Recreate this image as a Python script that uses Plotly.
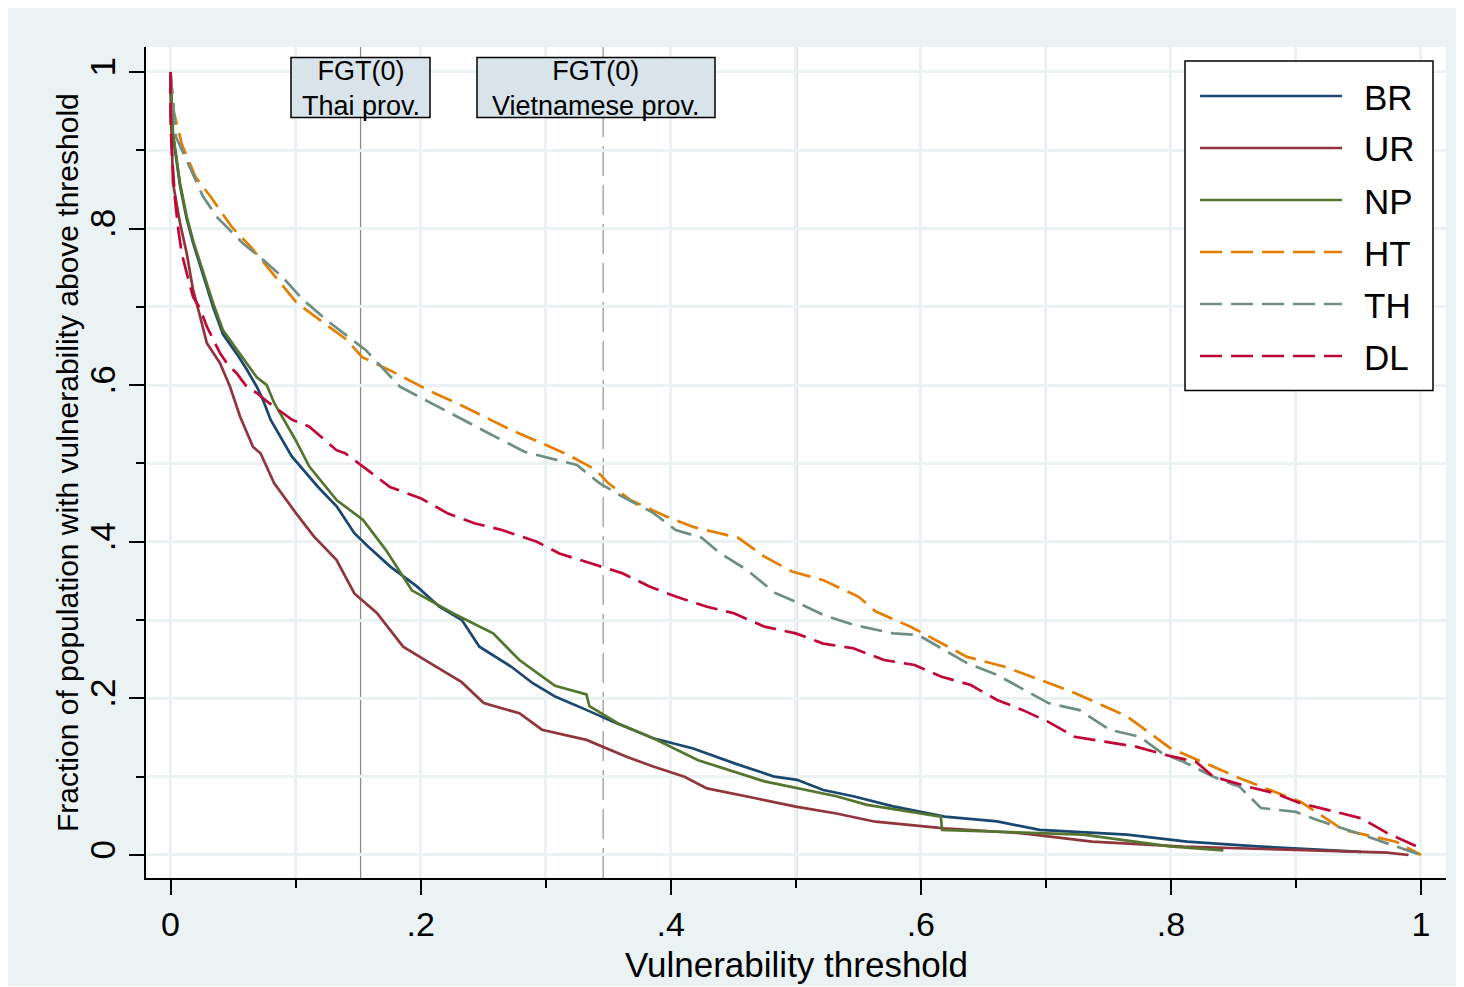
import plotly.graph_objects as go

# ---------------- data ----------------
series_names = ["BR", "UR", "NP", "HT", "TH", "DL"]

x_br = [0, 0.001, 0.0076, 0.013, 0.018, 0.0236, 0.029, 0.034, 0.042, 0.053, 0.061, 0.069, 0.074, 0.080,
        0.097, 0.118, 0.133, 0.147, 0.158, 0.176, 0.197, 0.215, 0.233, 0.247, 0.272, 0.290, 0.308, 0.333,
        0.354, 0.386, 0.418, 0.451, 0.483, 0.501, 0.522, 0.546, 0.578, 0.619, 0.661, 0.695, 0.765, 0.813,
        0.869, 0.952]
y_br = [1.0, 0.93, 0.855, 0.812, 0.782, 0.752, 0.726, 0.700, 0.665, 0.640, 0.620, 0.598, 0.581, 0.556,
        0.509, 0.470, 0.445, 0.411, 0.394, 0.368, 0.343, 0.317, 0.300, 0.266, 0.241, 0.219, 0.202, 0.185,
        0.170, 0.149, 0.136, 0.117, 0.100, 0.096, 0.083, 0.075, 0.062, 0.049, 0.043, 0.032, 0.026, 0.017,
        0.011, 0.004]

x_ur = [0, 0.0005, 0.002, 0.0076, 0.013, 0.018, 0.0236, 0.029, 0.0396, 0.0476, 0.0556, 0.061, 0.066, 0.072,
        0.0828, 0.1006, 0.1148, 0.1327, 0.147, 0.165, 0.186, 0.2076, 0.2326, 0.2505, 0.279, 0.297, 0.3326,
        0.3647, 0.386, 0.411, 0.429, 0.468, 0.500, 0.5325, 0.5637, 0.619, 0.6816, 0.737, 0.810, 0.973, 0.990]
y_ur = [1.0, 0.94, 0.858, 0.807, 0.768, 0.722, 0.688, 0.654, 0.628, 0.598, 0.560, 0.539, 0.521, 0.513,
        0.475, 0.436, 0.4065, 0.377, 0.334, 0.309, 0.266, 0.245, 0.221, 0.194, 0.181, 0.160, 0.147,
        0.1255, 0.113, 0.100, 0.085, 0.0724, 0.0617, 0.053, 0.0425, 0.034, 0.0277, 0.017, 0.0106, 0.003, 0.0]

x_np = [0, 0.002, 0.0076, 0.013, 0.018, 0.0236, 0.029, 0.034, 0.042, 0.053, 0.061, 0.069, 0.077, 0.083,
        0.100, 0.111, 0.133, 0.154, 0.172, 0.193, 0.2255, 0.258, 0.279, 0.3075, 0.3326, 0.335, 0.358, 0.386,
        0.422, 0.475, 0.5325, 0.557, 0.616, 0.617, 0.730, 0.799, 0.842]
y_np = [1.0, 0.922, 0.858, 0.815, 0.785, 0.756, 0.730, 0.705, 0.670, 0.645, 0.628, 0.610, 0.600, 0.577,
        0.530, 0.496, 0.453, 0.428, 0.390, 0.338, 0.309, 0.283, 0.249, 0.216, 0.205, 0.190, 0.168, 0.149,
        0.121, 0.094, 0.075, 0.064, 0.049, 0.032, 0.026, 0.011, 0.006]

x_ht = [0, 0.0026, 0.0092, 0.020, 0.032, 0.049, 0.064, 0.0796, 0.101, 0.1196, 0.141, 0.153, 0.178, 0.208,
        0.229, 0.2556, 0.272, 0.297, 0.318, 0.340, 0.350, 0.368, 0.397, 0.418, 0.454, 0.475, 0.497, 0.522,
        0.550, 0.564, 0.591, 0.602, 0.637, 0.668, 0.723, 0.765, 0.799, 0.855, 0.9036, 0.938, 0.980, 1.0]
y_ht = [1.0, 0.949, 0.907, 0.866, 0.841, 0.802, 0.777, 0.747, 0.705, 0.683, 0.658, 0.636, 0.617, 0.592,
        0.577, 0.556, 0.543, 0.526, 0.511, 0.492, 0.475, 0.453, 0.432, 0.419, 0.405, 0.381, 0.362, 0.351,
        0.330, 0.311, 0.292, 0.283, 0.253, 0.240, 0.207, 0.177, 0.137, 0.098, 0.068, 0.032, 0.017, 0.0]

x_th = [0, 0.0044, 0.026, 0.037, 0.058, 0.0756, 0.089, 0.106, 0.128, 0.156, 0.1835, 0.220, 0.254, 0.283,
        0.325, 0.343, 0.361, 0.386, 0.404, 0.425, 0.439, 0.461, 0.483, 0.500, 0.522, 0.546, 0.578, 0.598,
        0.616, 0.637, 0.661, 0.702, 0.727, 0.751, 0.775, 0.793, 0.810, 0.834, 0.855, 0.872, 0.900, 0.917,
        0.949, 0.973, 1.0]
y_th = [1.0, 0.917, 0.841, 0.815, 0.781, 0.758, 0.739, 0.709, 0.679, 0.645, 0.598, 0.568, 0.539, 0.515,
        0.498, 0.475, 0.458, 0.437, 0.415, 0.405, 0.386, 0.364, 0.335, 0.3235, 0.3065, 0.294, 0.283, 0.281,
        0.264, 0.245, 0.230, 0.194, 0.185, 0.160, 0.151, 0.130, 0.119, 0.100, 0.087, 0.060, 0.055, 0.0447,
        0.028, 0.015, 0.0]

x_dl = [0, 0, 0.001, 0.0036, 0.0063, 0.009, 0.013, 0.018, 0.0236, 0.029, 0.0396, 0.045, 0.053, 0.061,
        0.069, 0.079, 0.097, 0.111, 0.1327, 0.1396, 0.154, 0.1755, 0.200, 0.222, 0.243, 0.265, 0.293, 0.311,
        0.336, 0.361, 0.383, 0.404, 0.429, 0.4505, 0.475, 0.500, 0.522, 0.546, 0.5706, 0.595, 0.616, 0.640,
        0.661, 0.6816, 0.702, 0.723, 0.747, 0.772, 0.796, 0.820, 0.834, 0.862, 0.883, 0.9036, 0.931, 0.952,
        0.973, 1.0]
y_dl = [1.0, 0.943, 0.90, 0.837, 0.798, 0.768, 0.743, 0.713, 0.698, 0.675, 0.641, 0.628, 0.615, 0.598,
        0.590, 0.577, 0.556, 0.547, 0.517, 0.513, 0.496, 0.470, 0.4555, 0.436, 0.4236, 0.415, 0.400, 0.385,
        0.3725, 0.360, 0.343, 0.330, 0.317, 0.3087, 0.2916, 0.283, 0.270, 0.264, 0.249, 0.2427, 0.228, 0.217,
        0.198, 0.185, 0.170, 0.151, 0.1447, 0.1383, 0.1277, 0.119, 0.100, 0.087, 0.079, 0.066, 0.0553, 0.047,
        0.028, 0.0085]

# reference lines (FGT(0) poverty rates and 0.5 threshold)
fgt_thai = 0.152
fgt_viet = 0.346
threshold_line = 0.5
fgt_labels = ["FGT(0)<br>Thai prov.", "FGT(0)<br>Vietnamese prov."]

x_title = "Vulnerability threshold"
y_title = "Fraction of population with vulnerability above threshold"
tick_vals = [0, 0.2, 0.4, 0.6, 0.8, 1]
tick_text = ["0", ".2", ".4", ".6", ".8", "1"]
minor_vals = [0.1, 0.3, 0.5, 0.7, 0.9]

# ---------------- style ----------------
colors = ["#1a476f", "#90353b", "#55752f", "#e37e00", "#6e8e84", "#c10534"]
dashes = ["solid", "solid", "solid", "22px,9px", "22px,9px", "22px,9px"]
xs_all = [x_br, x_ur, x_np, x_ht, x_th, x_dl]
ys_all = [y_br, y_ur, y_np, y_ht, y_th, y_dl]

FONT = "Liberation Sans, Arial, sans-serif"
BG = "#EAF2F3"
OFF = 8                                   # page body margin
W, H = 1456, 978
# plot-area box, in page pixels
PL, PR, PT, PB = 146, 1446, 47, 878
L, R, T, B = PL - OFF, PR - OFF, PT - OFF, PB - OFF
XR = [-0.0196, 1.0200]
YR = [-0.0294, 1.0319]


def pxx(p):  # page pixel x -> paper x
    return (p - PL) / (PR - PL)


def pyy(p):  # page pixel y -> paper y
    return (PB - p) / (PB - PT)


def dx(p):  # page pixel x -> data x
    return XR[0] + pxx(p) * (XR[1] - XR[0])


def dy(p):  # page pixel y -> data y
    return YR[0] + pyy(p) * (YR[1] - YR[0])


fig = go.Figure()
for name, xs, ys, c, d in zip(series_names, xs_all, ys_all, colors, dashes):
    fig.add_trace(go.Scatter(x=xs, y=ys, mode="lines", name=name, showlegend=False,
                             line=dict(color=c, width=2.7, dash=d)))

shapes = []
ann = []

# vertical reference lines
shapes.append(dict(type="line", xref="x", yref="paper", x0=fgt_thai, x1=fgt_thai, y0=0, y1=1,
                   line=dict(color="#8c8c8c", width=1.3), layer="below"))
shapes.append(dict(type="line", xref="x", yref="paper", x0=fgt_viet, x1=fgt_viet, y0=0, y1=1,
                   line=dict(color="#9a9a9a", width=1.3, dash="30px,9px"), layer="below"))
shapes.append(dict(type="line", xref="x", yref="paper", x0=threshold_line, x1=threshold_line, y0=0, y1=1,
                   line=dict(color="#808080", width=3), layer="below"))

# FGT label boxes
boxes = [(291, 430, 360.5), (477, 715, 596)]
for (bx0, bx1, cx), txt in zip(boxes, fgt_labels):
    shapes.append(dict(type="rect", xref="x", yref="y", x0=dx(bx0), x1=dx(bx1), y0=dy(117.5), y1=dy(57.5),
                       fillcolor="#D8E4EA", line=dict(color="black", width=1.5), layer="above"))
    ann.append(dict(x=dx(cx), y=dy(88), xref="x", yref="y", text=txt, showarrow=False,
                    xanchor="center", yanchor="middle", align="center",
                    font=dict(family=FONT, size=27, color="black")))

# legend (drawn)
shapes.append(dict(type="rect", xref="paper", yref="paper", x0=pxx(1185), x1=pxx(1433), y0=pyy(390.5),
                   y1=pyy(61), fillcolor="white", line=dict(color="black", width=1.5), layer="above"))
row_y = [96, 148, 200, 252, 304, 356]
for name, c, d, ry in zip(series_names, colors, dashes, row_y):
    shapes.append(dict(type="line", xref="paper", yref="paper", x0=pxx(1200), x1=pxx(1342), y0=pyy(ry),
                       y1=pyy(ry), line=dict(color=c, width=2.7, dash=d), layer="above"))
    ann.append(dict(x=pxx(1362), y=pyy(ry + 1), xref="paper", yref="paper", text=name, showarrow=False,
                    xanchor="left", yanchor="middle", font=dict(family=FONT, size=35, color="black")))

# axis titles
ann.append(dict(x=pxx(796), y=pyy(964), xref="paper", yref="paper", text=x_title, showarrow=False,
                xanchor="center", yanchor="middle", font=dict(family=FONT, size=35, color="black")))
ann.append(dict(x=pxx(68), y=pyy(463), xref="paper", yref="paper", text=y_title, showarrow=False,
                textangle=-90, xanchor="center", yanchor="middle",
                font=dict(family=FONT, size=30, color="black")))

axis_common = dict(
    tickvals=tick_vals, ticktext=tick_text, ticks="outside", ticklen=15, tickwidth=2, tickcolor="black",
    showline=True, linecolor="black", linewidth=2, showgrid=True, gridcolor=BG, gridwidth=3,
    zeroline=False,
    minor=dict(tickmode="array", tickvals=minor_vals, ticks="outside", ticklen=8, tickwidth=2,
               tickcolor="black", showgrid=True, gridcolor=BG, gridwidth=3),
)

fig.update_layout(
    width=W, height=H, autosize=False,
    margin=dict(l=L, r=W - R, t=T, b=H - B, pad=0),
    paper_bgcolor=BG, plot_bgcolor="white",
    showlegend=False,
    xaxis=dict(range=XR, tickfont=dict(family=FONT, size=34, color="black"), **axis_common),
    yaxis=dict(range=YR, tickangle=-90, tickfont=dict(family=FONT, size=35, color="black"), **axis_common),
    shapes=shapes, annotations=ann,
)

fig.write_html("out.html")
